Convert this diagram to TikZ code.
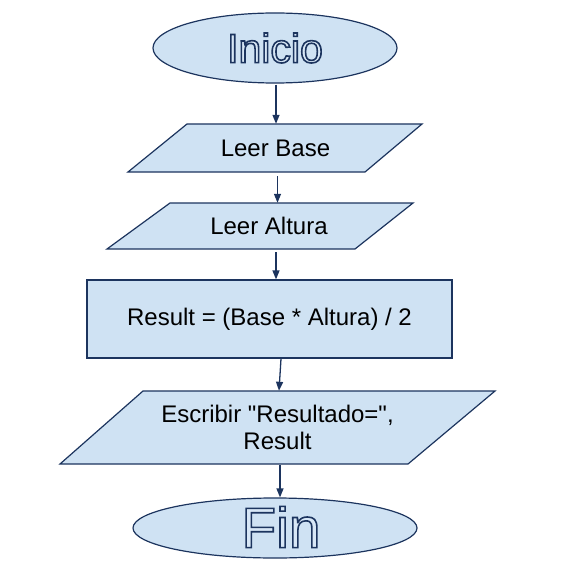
\documentclass[tikz,border=0pt]{standalone}
\usepackage{fontspec}
\setmainfont{Liberation Sans}
\usetikzlibrary{shapes.geometric,arrows.meta,calc}
\definecolor{boxfill}{RGB}{207,226,243}
\definecolor{navy}{RGB}{28,52,94}
\definecolor{letterfill}{RGB}{216,231,246}
\newcommand{\hollowtext}[1]{\special{pdf:literal direct 1.6 w 0.11 0.204 0.369 RG 2 Tr}#1\special{pdf:literal direct 0 Tr}}
\tikzset{
  shapeline/.style={draw=navy,line width=1.2pt,fill=boxfill,line join=miter},
  term/.style={ellipse,shapeline,inner sep=0pt},
  area/.style={inner sep=0pt,font=\fontsize{24}{27}\selectfont,align=center},
  arr/.style={draw=navy,line width=1.3pt,-{Triangle[length=9pt,width=7pt]}},
  bigtxt/.style={inner sep=0pt,text=letterfill}
}
\begin{document}
\begin{tikzpicture}[x=1pt,y=-1pt]
\useasboundingbox (0,0) rectangle (563,567);
% Inicio
\node[term,minimum width=244pt,minimum height=70pt] (ini) at (275,48) {};
\node[bigtxt,font=\fontsize{41}{41}\selectfont] (initxt) at (275,48) {\hollowtext{Inicio}};
% Leer Base
\draw[shapeline] (187,124) -- (422,124) -- (365,172) -- (128,172) -- cycle;
\node[area,minimum width=235pt,minimum height=48pt] (base) at (275.5,148) {Leer Base};
% Leer Altura
\draw[shapeline] (170,203) -- (413,203) -- (355,249) -- (107,249) -- cycle;
\node[area,minimum width=243pt,minimum height=46pt] (alt) at (269,226) {Leer Altura};
% Result
\node[area,shapeline,minimum width=365pt,minimum height=78pt] (res) at (269.5,319) {Result = (Base * Altura) / 2};
% Escribir
\draw[shapeline] (143,391) -- (495,391) -- (408,464) -- (60,464) -- cycle;
\node[area,minimum width=350pt,minimum height=73pt] (esc) at (277.5,427.5) {Escribir \textquotedbl Resultado=\textquotedbl ,\\Result};
% Fin
\node[term,minimum width=284pt,minimum height=60pt] (fin) at (275,528) {};
\node[bigtxt,font=\fontsize{57}{57}\selectfont] (fintxt) at (281,527) {\hollowtext{Fin}};
% arrows
\draw[arr,shorten <=1pt] ([xshift=1pt]ini.south) -- ([xshift=1pt]ini.south |- base.north);
\draw[arr,shorten <=4pt] ([xshift=2pt]base.south) -- ([xshift=2pt]base.south |- alt.north);
\draw[arr,shorten <=3pt] ([xshift=7pt]alt.south) -- ([xshift=7pt]alt.south |- res.north);
\draw[arr] ([xshift=11.5pt]res.south) -- ([xshift=1.5pt]esc.north);
\draw[arr,shorten <=1pt] ([xshift=2.5pt]esc.south) -- ([xshift=2.5pt]esc.south |- fin.north);
\end{tikzpicture}
\end{document}
